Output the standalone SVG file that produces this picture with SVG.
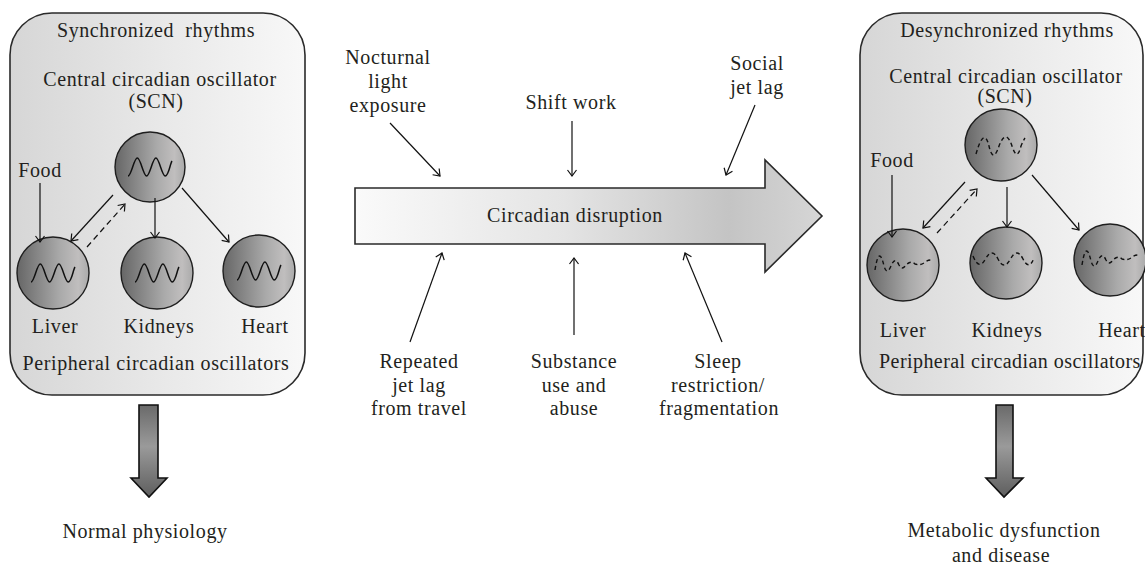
<svg xmlns="http://www.w3.org/2000/svg" width="1145" height="565" viewBox="0 0 1145 565">
<style>
text{font-family:"Liberation Serif","Times New Roman",serif;font-size:20px;letter-spacing:0.6px;fill:#231f20;text-anchor:middle}
.panel{stroke:#2a2a2a;stroke-width:1.6;fill:url(#gPanel)}
.osc{stroke:#1e1e1e;stroke-width:1.4;fill:url(#gCirc)}
.wave{fill:none;stroke:#111;stroke-width:1.5}
.dwave{fill:none;stroke:#111;stroke-width:1.4;stroke-dasharray:4 3}
.ln{fill:none;stroke:#111;stroke-width:1.2;marker-end:url(#ah)}
.dash{stroke-dasharray:6 4}
.down{fill:url(#gDown);stroke:#111;stroke-width:1.6}
</style>
<defs>
<linearGradient id="gPanel" x1="0" y1="0" x2="1" y2="0">
<stop offset="0" stop-color="#d6d6d6"/>
<stop offset="0.5" stop-color="#e8e8e8"/>
<stop offset="1" stop-color="#f8f8f8"/>
</linearGradient>
<linearGradient id="gCirc" x1="0" y1="0" x2="1" y2="0">
<stop offset="0" stop-color="#666"/>
<stop offset="0.6" stop-color="#aaa"/>
<stop offset="0.85" stop-color="#c0bebe"/>
<stop offset="1" stop-color="#aaa"/>
</linearGradient>
<linearGradient id="gBig" x1="0" y1="0" x2="1" y2="0">
<stop offset="0" stop-color="#fafafa"/>
<stop offset="0.45" stop-color="#e4e4e4"/>
<stop offset="0.8" stop-color="#c4c4c4"/>
<stop offset="1" stop-color="#d6d6d6"/>
</linearGradient>
<linearGradient id="gDown" x1="0" y1="0" x2="0" y2="1">
<stop offset="0" stop-color="#6a6a6a"/>
<stop offset="0.45" stop-color="#9a9a9a"/>
<stop offset="1" stop-color="#5e5e5e"/>
</linearGradient>
<marker id="ah" markerUnits="userSpaceOnUse" markerWidth="10" markerHeight="12" viewBox="0 0 10 12" refX="7" refY="6" orient="auto">
<path d="M1,1.5 L7,6 L1,10.5" fill="none" stroke="#111" stroke-width="1.2"/>
</marker>
<path id="sine" d="M-22,9 C-18.6,9 -16.1,-9 -12.7,-9 S-6.79,9 -3.4,9 S2.51,-9 5.9,-9 S11.81,9 15.2,9 S20,-3 22,-6"/>
<path id="scnd" d="M-25,8 Q-17,-20 -12,0 Q-8,18 -2,0 Q5,-18 11,0 Q16,16 20,0 Q22,-5 24,-8"/>
<path id="damp" d="M-28,2 Q-24,-24 -19,-2 Q-16,8 -12,-2 Q-8,-12 -4,-3 Q-1,3 3,-3 Q8,-8 12,-4 Q18,-2 22,-6 Q25,-8 28,-8"/>
<path id="kid" d="M-33,-3 Q-27,12 -20.5,0 T-8,0 T4.5,0 T17,0 Q23,12 28,-1"/>
</defs>
<rect width="1145" height="565" fill="#fff"/>

<g id="panel-sync">
<rect class="panel" x="10" y="13" width="295" height="382" rx="42"/>
<text x="156" y="37" xml:space="preserve">Synchronized  rhythms</text>
<text x="160" y="86">Central circadian oscillator</text>
<text x="156" y="108">(SCN)</text>
<text x="40" y="177">Food</text>
<text x="156" y="370">Peripheral circadian oscillators</text>
</g>
<g id="scn-sync">
<circle class="osc" cx="150" cy="167" r="35"/>
<use href="#sine" class="wave" x="150" y="167"/>
</g>
<g id="liver-sync">
<circle class="osc" cx="53" cy="273" r="36"/>
<use href="#sine" class="wave" x="53" y="273"/>
<text x="55" y="333">Liver</text>
</g>
<g id="kidneys-sync">
<circle class="osc" cx="157" cy="273" r="36"/>
<use href="#sine" class="wave" x="157" y="273"/>
<text x="159" y="333">Kidneys</text>
</g>
<g id="heart-sync">
<circle class="osc" cx="259" cy="271" r="36"/>
<use href="#sine" class="wave" x="259" y="271"/>
<text x="265" y="333">Heart</text>
</g>

<g id="panel-desync">
<rect class="panel" x="860" y="13" width="283" height="382" rx="42"/>
<text x="1007" y="37">Desynchronized rhythms</text>
<text x="1006" y="83">Central circadian oscillator</text>
<text x="1005" y="103">(SCN)</text>
<text x="892" y="167">Food</text>
<text x="1010" y="368" textLength="262">Peripheral circadian oscillators</text>
</g>
<g id="scn-desync">
<circle class="osc" cx="1001" cy="145" r="36"/>
<use href="#scnd" class="dwave" x="1001" y="146"/>
</g>
<g id="liver-desync">
<circle class="osc" cx="903" cy="265" r="36"/>
<use href="#damp" class="dwave" x="903" y="268"/>
<text x="903" y="337">Liver</text>
</g>
<g id="kidneys-desync">
<circle class="osc" cx="1006" cy="263" r="36"/>
<use href="#kid" class="dwave" x="1006" y="259"/>
<text x="1007" y="337">Kidneys</text>
</g>
<g id="heart-desync">
<circle class="osc" cx="1110" cy="260" r="36"/>
<use href="#damp" class="dwave" x="1110" y="263"/>
<text x="1122" y="337">Heart</text>
</g>

<g id="disruption">
<path d="M355,188 H765 V160 L822,216 L765,272 V244 H355 Z" fill="url(#gBig)" stroke="#2a2a2a" stroke-width="1.6"/>
<text x="575" y="222">Circadian disruption</text>
</g>
<g id="label-nocturnal">
<text x="388" y="64">Nocturnal</text>
<text x="388" y="88">light</text>
<text x="388" y="112">exposure</text>
</g>
<g id="label-shift"><text x="571" y="109">Shift work</text></g>
<g id="label-social">
<text x="757" y="70">Social</text>
<text x="757" y="94">jet lag</text>
</g>
<g id="label-repeated">
<text x="419" y="368">Repeated</text>
<text x="419" y="392">jet lag</text>
<text x="419" y="415">from travel</text>
</g>
<g id="label-substance">
<text x="574" y="368">Substance</text>
<text x="574" y="392">use and</text>
<text x="574" y="415">abuse</text>
</g>
<g id="label-sleep">
<text x="718" y="368">Sleep</text>
<text x="718" y="392">restriction/</text>
<text x="719" y="415">fragmentation</text>
</g>

<g id="outcome-normal">
<path class="down" d="M139,405 H158 V478 H167 L149,497 L131,478 H139 Z"/>
<text x="145" y="538">Normal physiology</text>
</g>
<g id="outcome-disease">
<path class="down" d="M996,405 H1013 V478 H1023 L1004,497 L986,478 H996 Z"/>
<text x="1004" y="537">Metabolic dysfunction</text>
<text x="1001" y="562">and disease</text>
</g>

<g id="connectors">
<line class="ln" x1="40" y1="183" x2="40" y2="242"/>
<line class="ln" x1="113" y1="195" x2="71" y2="241"/>
<line class="ln dash" x1="87" y1="247" x2="125" y2="204"/>
<line class="ln" x1="155" y1="198" x2="155" y2="238"/>
<line class="ln" x1="182" y1="188" x2="229" y2="242"/>

<line class="ln" x1="892" y1="175" x2="892" y2="237"/>
<line class="ln" x1="965" y1="182" x2="923" y2="228"/>
<line class="ln dash" x1="937" y1="233" x2="977" y2="189"/>
<line class="ln" x1="1007" y1="187" x2="1007" y2="227"/>
<line class="ln" x1="1032" y1="175" x2="1079" y2="230"/>

<line class="ln" x1="390" y1="123" x2="440" y2="176"/>
<line class="ln" x1="572" y1="121" x2="572" y2="176"/>
<line class="ln" x1="755" y1="105" x2="726" y2="175"/>
<line class="ln" x1="410" y1="342" x2="442" y2="253"/>
<line class="ln" x1="574" y1="335" x2="574" y2="258"/>
<line class="ln" x1="722" y1="342" x2="685" y2="253"/>
</g>
</svg>
